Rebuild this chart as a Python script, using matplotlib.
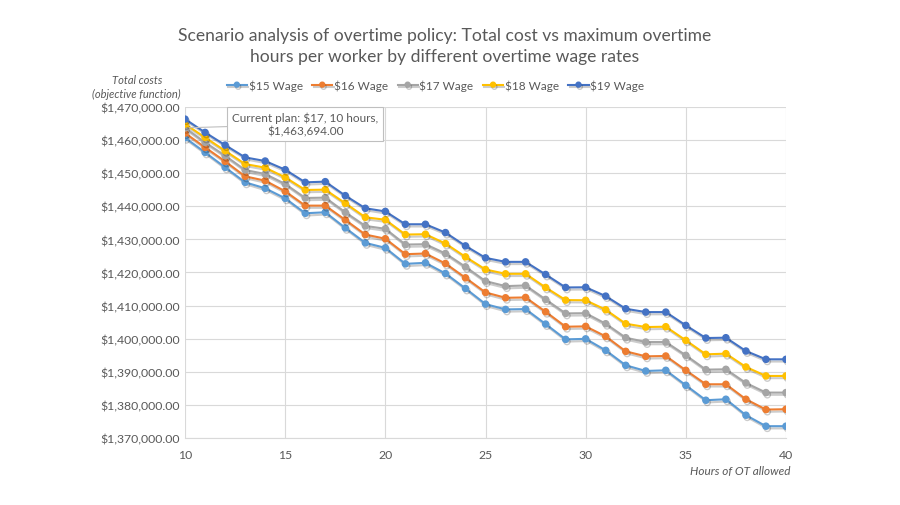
import matplotlib
matplotlib.use("Agg")
import matplotlib.pyplot as plt
import matplotlib.patheffects as pe
from matplotlib.ticker import StrMethodFormatter, MultipleLocator

hours = list(range(10, 41))

wage15 = [1460700, 1456280, 1451760, 1447240, 1445430, 1442410, 1437890, 1438190, 1433470, 1428945,
          1427440, 1422610, 1422915, 1419700, 1415175, 1410450, 1408845, 1408945, 1404420, 1399800,
          1399950, 1396480, 1391960, 1390250, 1390450, 1385930, 1381410, 1381710, 1376890, 1373570,
          1373570]
wage16 = [1462110, 1457790, 1453570, 1449045, 1447740, 1444520, 1440200, 1440200, 1435880, 1431460,
          1430200, 1425530, 1425730, 1422715, 1418390, 1413970, 1412360, 1412460, 1408140, 1403620,
          1403720, 1400700, 1396180, 1394670, 1394775, 1390450, 1386230, 1386230, 1381710, 1378590,
          1378690]
wage17 = [1463694, 1459300, 1455280, 1450955, 1449750, 1446735, 1442510, 1442610, 1438190, 1434070,
          1433200, 1428440, 1428540, 1425730, 1421710, 1417390, 1415880, 1416080, 1411860, 1407640,
          1407700, 1404520, 1400300, 1398995, 1398995, 1394975, 1390650, 1390750, 1386630, 1383720,
          1383720]
wage18 = [1464820, 1460800, 1456780, 1452760, 1451660, 1448740, 1444925, 1445025, 1440905, 1436685,
          1435930, 1431460, 1431560, 1428745, 1424725, 1420905, 1419600, 1419600, 1415480, 1411660,
          1411610, 1408745, 1404520, 1403520, 1403620, 1399500, 1395280, 1395480, 1391460, 1388745,
          1388745]
wage19 = [1466330, 1462310, 1458490, 1454770, 1453670, 1451055, 1447240, 1447440, 1443220, 1439400,
          1438450, 1434570, 1434570, 1432060, 1428040, 1424420, 1423210, 1423210, 1419400, 1415480,
          1415530, 1412865, 1409045, 1408040, 1408040, 1404020, 1400200, 1400300, 1396280, 1393770,
          1393770]

series = [("$15 Wage", wage15, "#5B9BD5"),
          ("$16 Wage", wage16, "#ED7D31"),
          ("$17 Wage", wage17, "#A5A5A5"),
          ("$18 Wage", wage18, "#FFC000"),
          ("$19 Wage", wage19, "#4472C4")]

plt.rcParams['font.family'] = ['Lato', 'DejaVu Sans']
txt = '#595959'
grid = '#d9d9d9'

fig = plt.figure(figsize=(9, 5.06), dpi=100)
ax = fig.add_axes([0.2056, 0.1324, 0.6677, 0.6542])

shadow = [pe.SimpleLineShadow(offset=(1.0, -1.6), shadow_color='#000000', alpha=0.2), pe.Normal()]
for name, vals, col in series:
    ax.plot(hours, vals, color=col, lw=1.5, marker='o', markersize=4.4,
            label=name, path_effects=shadow, zorder=3)

ax.set_xlim(10, 40)
ax.set_ylim(1370000, 1470000)
ax.xaxis.set_major_locator(MultipleLocator(5))
ax.yaxis.set_major_locator(MultipleLocator(10000))
ax.yaxis.set_major_formatter(StrMethodFormatter('${x:,.2f}'))
ax.grid(True, color=grid, lw=0.8)
ax.set_axisbelow(True)
for s in ['top', 'right', 'left']:
    ax.spines[s].set_visible(False)
ax.spines['bottom'].set_color(grid)
ax.tick_params(length=0, labelsize=8.8, labelcolor=txt)
ax.tick_params(axis='x', pad=8)

ax.annotate("Current plan: $17, 10 hours,\n$1,463,694.00", xy=(10, 1463694),
            xytext=(16.0, 1464800), ha='center', va='center', fontsize=8.5, color=txt,
            bbox=dict(boxstyle='square,pad=0.4', fc='white', ec='#bfbfbf', lw=0.8),
            arrowprops=dict(arrowstyle='-', color='#bfbfbf', lw=0.8, shrinkA=0, shrinkB=3),
            zorder=5)

fig.text(0.494, 0.908, "Scenario analysis of overtime policy: Total cost vs maximum overtime\n"
         "hours per worker by different overtime wage rates",
         ha='center', va='center', fontsize=12.6, color=txt, linespacing=1.35)
fig.text(0.152, 0.827, "Total costs\n(objective function)", ha='center', va='center',
         fontsize=8, style='italic', color=txt, linespacing=1.3)
fig.text(0.878, 0.069, "Hours of OT allowed", ha='right', va='center',
         fontsize=8.5, style='italic', color=txt)

leg = fig.legend(loc='center', bbox_to_anchor=(0.484, 0.830), ncol=5, frameon=False,
                 fontsize=8.5, labelcolor=txt, handlelength=1.7, columnspacing=0.8,
                 handletextpad=0.15, markerscale=0.8)

fig.savefig("out.png", dpi=100)
